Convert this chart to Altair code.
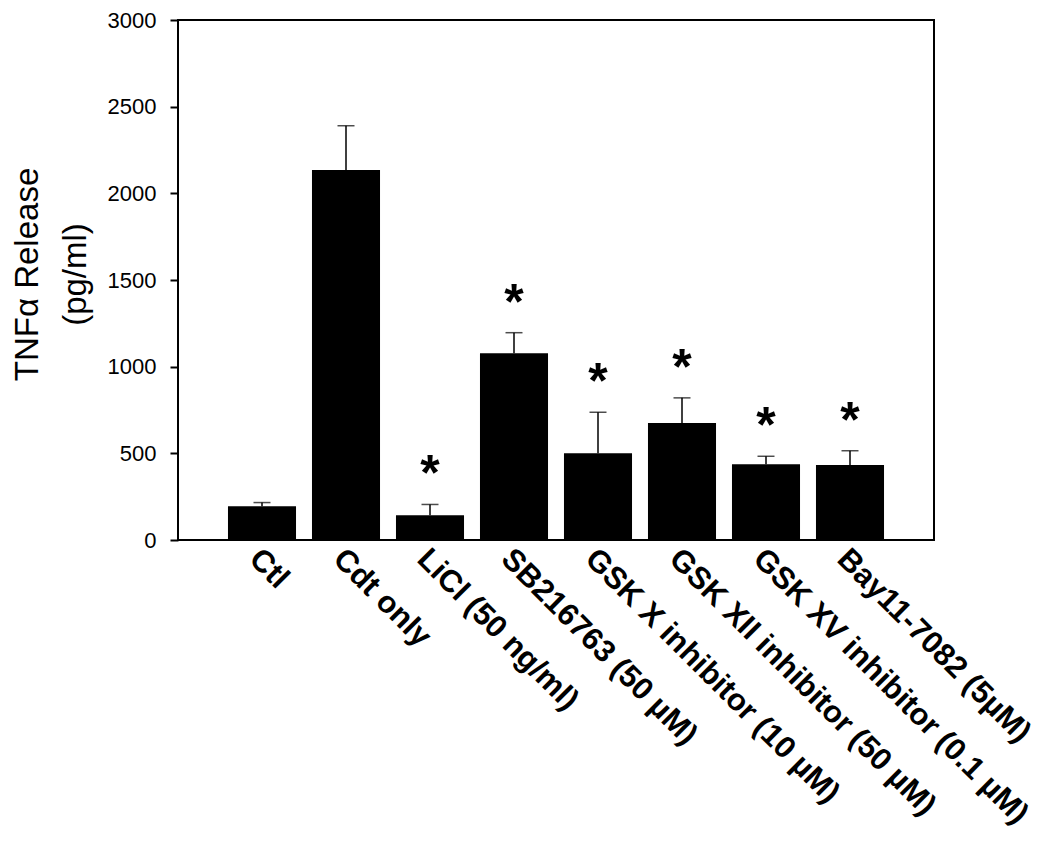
import altair as alt
import pandas as pd

categories = ["Ctl", "Cdt only", "LiCl (50 ng/ml)", "SB216763 (50 µM)",
              "GSK X inhibitor (10 µM)", "GSK XII inhibitor (50 µM)",
              "GSK XV inhibitor (0.1 µM)", "Bay11-7082 (5µM)"]
means = [194, 2134, 143, 1077, 500, 675, 437, 432]
errors = [22, 256, 62, 119, 237, 145, 46, 83]
stars = ["", "", "*", "*", "*", "*", "*", "*"]

df = pd.DataFrame({
    "cat": categories,
    "mean": means,
    "upper": [m + e for m, e in zip(means, errors)],
    "star": stars,
})

FONT = "Arial, Liberation Sans, sans-serif"

x = alt.X("cat:N", sort=categories, title=None,
          scale=alt.Scale(paddingInner=0.19, paddingOuter=0.595),
          axis=alt.Axis(labelAngle=45, labelAlign="left", labelBaseline="middle",
                        labelFontSize=31, labelFontWeight="bold", labelFont=FONT,
                        labelColor="black", labelPadding=14, labelOffset=-8,
                        ticks=False, domain=False, labelLimit=0))

y = alt.Y("mean:Q", scale=alt.Scale(domain=[0, 3000], nice=False),
          title=["TNFα Release", "(pg/ml)"],
          axis=alt.Axis(values=[0, 500, 1000, 1500, 2000, 2500, 3000], grid=False,
                        format="d",
                        tickSize=8, tickWidth=2, tickColor="black",
                        labelFontSize=22, labelFont=FONT, labelColor="black",
                        labelPadding=14, domain=False,
                        titleFontSize=33, titleFont=FONT, titleFontWeight="normal",
                        titleColor="black", titleAngle=-90, titleAlign="center",
                        titleBaseline="alphabetic", titleLineHeight=48,
                        titleX=-141, titleY=254))

bars = alt.Chart(df).mark_bar(color="black").encode(x=x, y=y)

err = alt.Chart(df).mark_rule(color="black", strokeWidth=1.5).encode(
    x=alt.X("cat:N", sort=categories), y="mean:Q", y2="upper:Q")

caps = alt.Chart(df).mark_tick(color="black", size=17, thickness=1.5).encode(
    x=alt.X("cat:N", sort=categories), y="upper:Q")

star_marks = alt.Chart(df).mark_text(fontSize=50, fontWeight="bold", font=FONT,
                                     baseline="alphabetic", dy=-14, color="black").encode(
    x=alt.X("cat:N", sort=categories), y="upper:Q", text="star:N")

chart = alt.layer(bars, err, caps, star_marks).properties(
    width=756, height=520,
    background="white",
    autosize=alt.AutoSizeParams(type="none"),
    padding={"left": 170, "top": 12, "right": 108, "bottom": 308},
).configure_view(stroke="black", strokeWidth=2)

chart.save("out.html", embed_options={"renderer": "svg", "actions": False})
